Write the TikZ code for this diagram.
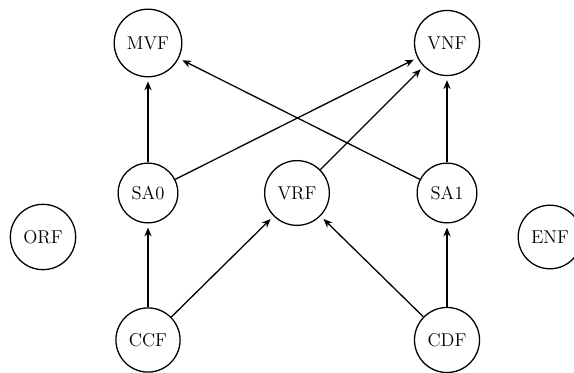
\documentclass[tikz,border=0pt]{standalone}
\usepackage{fontspec}
\usetikzlibrary{arrows.meta}
\begin{document}
\begin{tikzpicture}[x=0.62pt,y=-0.62pt,
  state/.style={circle,draw,line width=0.8pt,inner sep=5.6pt,font=\fontsize{11.5}{13}\selectfont},
  edge/.style={line width=0.8pt,-{Stealth[length=5.5pt,width=4.5pt]},shorten >=2.5pt}]
\useasboundingbox (0,0) rectangle (574,373);
\node[state] (MVF) at (148,43) {MVF};
\node[state] (VNF) at (447,43) {VNF};
\node[state] (SA0) at (148,193) {SA0};
\node[state] (VRF) at (297,193) {VRF};
\node[state] (SA1) at (447,193) {SA1};
\node[state] (ORF) at (43,237) {ORF};
\node[state] (ENF) at (550,237) {ENF};
\node[state] (CCF) at (148,340) {CCF};
\node[state] (CDF) at (447,340) {CDF};
\draw[edge] (SA0) -- (MVF);
\draw[edge] (SA0) -- (VNF);
\draw[edge] (VRF) -- (VNF);
\draw[edge] (SA1) -- (VNF);
\draw[edge] (SA1) -- (MVF);
\draw[edge] (CCF) -- (SA0);
\draw[edge] (CCF) -- (VRF);
\draw[edge] (CDF) -- (VRF);
\draw[edge] (CDF) -- (SA1);
\end{tikzpicture}
\end{document}
